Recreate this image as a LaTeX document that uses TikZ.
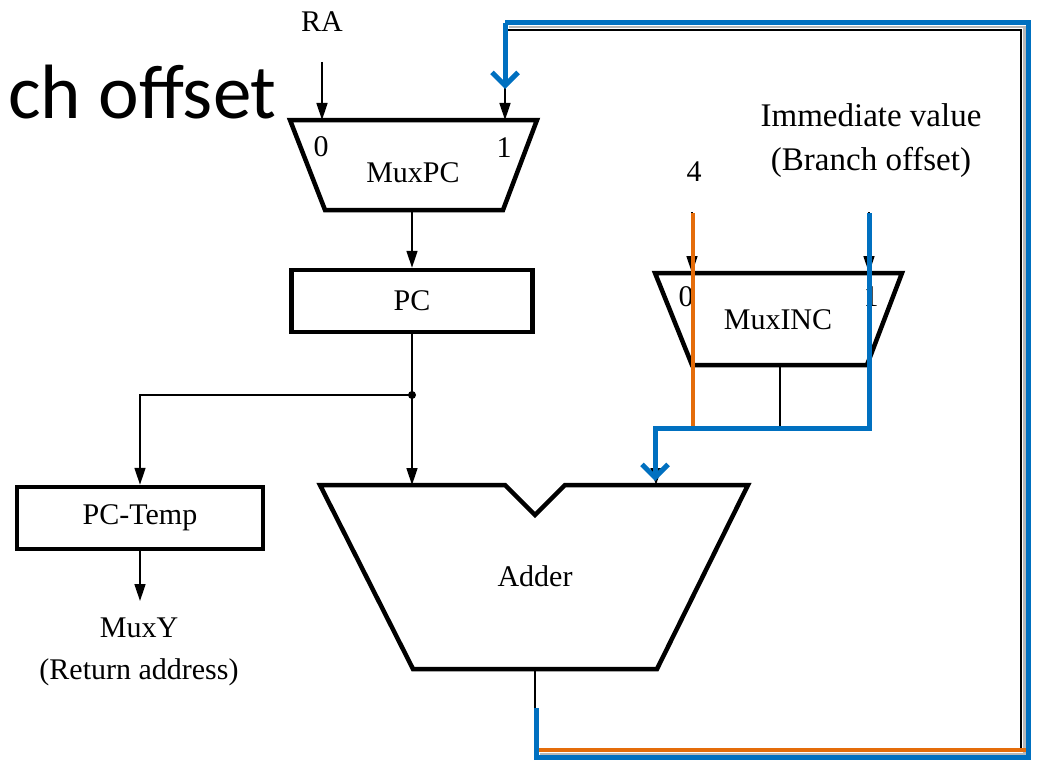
\documentclass[tikz,border=0pt]{standalone}
\usepackage{fontspec}
\setmainfont{Liberation Serif}
\newfontfamily\calib{Carlito}
\usetikzlibrary{arrows.meta}
\definecolor{pblue}{HTML}{0070C0}
\definecolor{porange}{HTML}{E46C0A}
\begin{document}
\begin{tikzpicture}[x=1bp,y=-1bp,
  blk/.style={draw,line width=4.5bp,fill=white},
  lbl/.style={font=\fontsize{30bp}{34bp}\selectfont, inner sep=0pt},
  biglbl/.style={font=\fontsize{33bp}{37bp}\selectfont, inner sep=0pt},
  boxnode/.style={blk, font=\fontsize{30bp}{34bp}\selectfont, inner sep=0pt},
  wire/.style={line width=1.5bp},
  arr/.style={wire,-{Triangle[length=17bp,width=11bp]}},
  bluew/.style={draw=pblue,line width=5bp},
  orw/.style={draw=porange,line width=4.5bp},
  shadowln/.style={draw=black!28,line width=2.5bp},
  barb/.style={-{Straight Barb[length=13bp,width=26bp]}},
]
\useasboundingbox (0,0) rectangle (1037,761);
\clip (0,0) rectangle (1037,761);

% title fragment
\node[anchor=base east, inner sep=0pt, font=\calib\fontsize{77bp}{82bp}\selectfont] (title) at (277,118) {ch offset};

% ports / coordinates
\coordinate (ra-out) at (322,62);
\coordinate (muxpc-in0) at (322,120);
\coordinate (muxpc-in1) at (505,120);
\coordinate (muxpc-out) at (412,210);
\coordinate (split) at (412,395);
\coordinate (adder-in0) at (412,485);
\coordinate (adder-in1) at (656,485);
\coordinate (adder-out) at (535,669);
\coordinate (four-out) at (692,212);
\coordinate (imm-out) at (869,212);
\coordinate (muxinc-in0) at (692,273);
\coordinate (muxinc-in1) at (869,273);
\coordinate (muxinc-out) at (780,365);
\coordinate (inc-join) at (780,428);
\coordinate (muxy-in) at (140,601);
\coordinate (fb1) at (535,751);
\coordinate (fb2) at (1021,751);
\coordinate (fb3) at (1021,30);
\coordinate (fb4) at (505,30);

% MuxPC
\draw[blk] (290,120) -- (537,120) -- (503,210) -- (325,210) -- cycle;
\node[lbl] (muxpc) at (413,173) {MuxPC};
\node[lbl] (muxpc0) at (321,147) {0};
\node[lbl] (muxpc1) at (504,148) {1};
\node[lbl] (ra) at (322,22) {RA};

% PC
\node[boxnode, minimum width=241bp, minimum height=62bp] (pc) at (412,301) {PC};

% PC-Temp
\node[boxnode, minimum width=246bp, minimum height=62bp] (pctemp) at (140,518) {PC-Temp};
\node[lbl] (muxy) at (139,628) {MuxY};
\node[lbl] (ret) at (139,672) {(Return address)};

% Adder
\draw[blk] (320,485) -- (505,485) -- (535,515) -- (565,485) -- (748,485) -- (657,669) -- (413,669) -- cycle;
\node[lbl] (adder) at (535,576) {Adder};

% MuxINC
\draw[blk] (655,273) -- (902,273) -- (867,365) -- (692,365) -- cycle;
\node[lbl] (muxinc) at (778,320) {MuxINC};
\node[lbl] (muxinc0) at (686,297) {0};
\node[lbl] (muxinc1) at (871,297) {1};
\node[lbl] (four) at (694,172) {4};
\node[biglbl] (imm) at (871,115) {Immediate value};
\node[biglbl] (immb) at (871,162) {(Branch offset)};

% black connectors
\draw[arr] (ra-out) -- (muxpc-in0);
\draw[arr] (muxpc-out) -- (pc.north);
\draw[wire] (pc.south) -- (split);
\fill (split) circle (4bp);
\draw[arr] (split) -- (adder-in0);
\draw[arr] (split) -| (pctemp.north);
\draw[arr] (pctemp.south) -- (muxy-in);
\draw[arr] (four-out) -- (muxinc-in0);
\draw[arr] (imm-out) -- (muxinc-in1);
\draw[arr] (muxinc-out) -- (inc-join) -| (adder-in1);
\draw[arr] (adder-out) -- (fb1) -- (fb2) -- (fb3) -- (fb4) -- (muxpc-in1);

% highlight overlays
\coordinate (b1) at (536,708);
\coordinate (b2) at (536,757);
\coordinate (b3) at (1028,757);
\coordinate (b4) at (1028,23);
\coordinate (b5) at (505,23);
\coordinate (b6) at (505,89);
\coordinate (o1) at (693,213);
\coordinate (o2) at (693,426);
\coordinate (o3) at (539,750);
\coordinate (o4) at (1026,750);
\coordinate (c1) at (869,213);
\coordinate (c2) at (869,428);
\coordinate (c3) at (655,428);
\coordinate (c4) at (655,481);

\draw[shadowln] (509,27) -- (1024.5,27) -- (1024.5,754) -- (540,754);
\draw[bluew] (b1) -- (b2) -- (b3) -- (b4) -- (b5);
\draw[bluew,barb] (b5) -- (b6);
\draw[orw] (o3) -- (o4);
\draw[orw] (o1) -- (o2);
\draw[bluew] (c1) -- (c2) -- (c3) -- (655,470);
\draw[bluew,barb] (655,460) -- (c4);
\end{tikzpicture}
\end{document}
